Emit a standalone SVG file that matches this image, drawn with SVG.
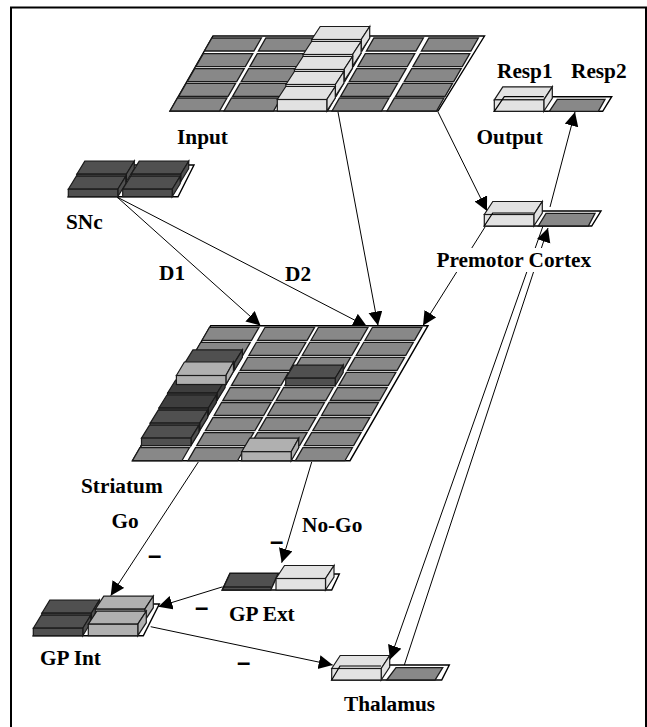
<svg xmlns="http://www.w3.org/2000/svg" xmlns:xlink="http://www.w3.org/1999/xlink" width="647" height="727" viewBox="0 0 647 727">
<style>
text{font-family:"Liberation Serif","Times New Roman",serif;font-weight:bold;font-size:21.3px;fill:#000}
.minus{font-family:"Liberation Sans",Arial,sans-serif;font-size:24px}
.base{fill:#fff;stroke:#000;stroke-width:1.4}
.cell{fill:#888;stroke:#1a1a1a;stroke-width:1.3}
.wire{fill:none;stroke:#000;stroke-width:1.2}
.box polygon,.box rect{stroke:#1a1a1a;stroke-width:1.2}
.light{fill:#e2e2e2}.mid{fill:#b0b0b0}.dark{fill:#505050}.deep{fill:#3e3e3e}
#connectors line{stroke:#000;stroke-width:1;fill:none;marker-end:url(#head)}
</style>
<defs>
<marker id="head" markerUnits="userSpaceOnUse" markerWidth="16" markerHeight="16" refX="14" refY="7" orient="auto"><path d="M0,0L14,7L0,14z" fill="#000"/></marker>
<polygon id="ic" class="cell" points="0,0 49.5,0 57,-13 7.5,-13"/>
<g id="inrow"><use xlink:href="#ic" x="0"/><use xlink:href="#ic" x="54"/><use xlink:href="#ic" x="108"/><use xlink:href="#ic" x="162"/><use xlink:href="#ic" x="217"/></g>
<g id="strow"><use xlink:href="#ic" x="0"/><use xlink:href="#ic" x="55.6"/><use xlink:href="#ic" x="109"/><use xlink:href="#ic" x="163"/></g>
<g id="tall" class="box"><polygon points="0,-11.5 8.5,-24.5 58,-24.5 49.5,-11.5"/><polygon points="49.5,-11.5 58,-24.5 58,-13 49.5,0"/><rect x="0" y="-11.5" width="49.5" height="11.5"/></g>
<g id="med" class="box"><polygon points="0,-9 8,-22.5 57,-22.5 49.5,-9"/><polygon points="49.5,-9 57,-22.5 57,-13 49.5,0"/><rect x="0" y="-9" width="49.5" height="9"/></g>
<g id="low" class="box"><polygon points="0,-7.5 8,-20.5 57.5,-20.5 49.5,-7.5"/><polygon points="49.5,-7.5 57.5,-20.5 57.5,-13 49.5,0"/><rect x="0" y="-7.5" width="49.5" height="7.5"/></g>
</defs>
<rect x="11" y="7.5" width="635" height="730" fill="#fff" stroke="#000" stroke-width="2"/>

<g id="connectors">
<line x1="338" y1="112" x2="378" y2="325.5"/>
<line x1="438" y1="112" x2="487" y2="211"/>
<line x1="485" y1="227" x2="423" y2="325.5"/>
<line x1="550" y1="207" x2="575" y2="112"/>
<line x1="404.3" y1="665" x2="548" y2="228"/>
<line x1="543" y1="226" x2="390" y2="659.5"/>
<line x1="117" y1="197" x2="260.5" y2="325.5"/>
<line x1="117" y1="197" x2="367" y2="326.5"/>
<line x1="198.3" y1="462" x2="110.7" y2="595.7"/>
<line x1="311.7" y1="462" x2="281.7" y2="562.7"/>
<line x1="222" y1="587" x2="158.3" y2="606.7"/>
<line x1="150.7" y1="626.7" x2="332.7" y2="665"/>
</g>

<g id="input">
<polygon class="base" points="170,111 213,36 484.5,36 438,111"/>
<use xlink:href="#inrow" transform="translate(204.4,51)"/>
<use xlink:href="#inrow" transform="translate(195.8,66.6)"/>
<use xlink:href="#inrow" transform="translate(187.2,81.6)"/>
<use xlink:href="#inrow" transform="translate(178.6,96.4)"/>
<use xlink:href="#inrow" transform="translate(170,111)"/>
<g class="light">
<use xlink:href="#tall" transform="translate(311.7,51)"/>
<use xlink:href="#tall" transform="translate(303.1,66)"/>
<use xlink:href="#tall" transform="translate(294.5,81)"/>
<use xlink:href="#tall" transform="translate(285.9,96)"/>
<use xlink:href="#tall" transform="translate(277.3,111)"/>
</g>
<text x="177" y="144">Input</text>
</g>

<g id="output">
<polygon class="base" points="494.3,111.3 504.3,96.7 611.7,96.7 602.7,111.3"/>
<polygon class="cell" points="549.3,111.3 557.3,99.3 605,99.3 598.3,111.3"/>
<use xlink:href="#tall" class="light" transform="translate(494.3,111.3)"/>
<polyline class="wire" points="494.3,111.3 504.3,96.7 543.8,96.7"/>
<text x="497" y="78">Resp1</text>
<text x="571" y="78">Resp2</text>
<text x="476.5" y="144">Output</text>
</g>

<g id="premotor">
<polygon class="base" points="484.3,226 492.7,211 601,211 591.7,226"/>
<polygon class="cell" points="538.3,226 546,213.3 595,213.3 588.3,226"/>
<use xlink:href="#tall" class="light" transform="translate(484.3,226)"/>
<polyline class="wire" points="484.3,226 492.7,213 533.8,213"/>
<rect x="436" y="248" width="157" height="24" fill="#fff"/>
<text x="436.5" y="267">Premotor Cortex</text>
</g>

<g id="snc">
<polygon class="base" points="68.3,196.7 86,165 194,165 178,196.7"/>
<g class="dark">
<use xlink:href="#low" transform="translate(76.8,181.7)"/>
<use xlink:href="#low" transform="translate(131.2,181.7)"/>
<use xlink:href="#low" transform="translate(68.3,196.7)"/>
<use xlink:href="#low" transform="translate(122.7,196.7)"/>
</g>
<text x="66" y="229">SNc</text>
</g>

<g id="striatum">
<polygon class="base" points="132.7,460.7 210.7,325.7 428,325.7 350,460.7"/>
<use xlink:href="#strow" transform="translate(202,340.3)"/>
<use xlink:href="#strow" transform="translate(193.3,355.3)"/>
<use xlink:href="#strow" transform="translate(184.6,370.4)"/>
<use xlink:href="#strow" transform="translate(175.9,385.4)"/>
<use xlink:href="#strow" transform="translate(167.2,400.5)"/>
<use xlink:href="#strow" transform="translate(158.5,415.5)"/>
<use xlink:href="#strow" transform="translate(149.8,430.6)"/>
<use xlink:href="#strow" transform="translate(141.1,445.6)"/>
<use xlink:href="#strow" transform="translate(132.4,460.7)"/>
<use xlink:href="#low" class="dark" transform="translate(184.9,370.4)"/>
<use xlink:href="#low" class="deep" transform="translate(167.6,400.5)"/>
<use xlink:href="#med" class="mid" transform="translate(176.4,384.5)"/>
<use xlink:href="#low" class="deep" transform="translate(158.9,415.5)"/>
<use xlink:href="#low" class="dark" transform="translate(150.2,430.6)"/>
<use xlink:href="#low" class="dark" transform="translate(141.5,445.6)"/>
<use xlink:href="#low" class="dark" transform="translate(285.7,385.7)"/>
<use xlink:href="#med" class="mid" transform="translate(241.7,460.7)"/>
<text x="81" y="493">Striatum</text>
</g>

<g id="gpext">
<polygon class="base" points="222.3,590 230,574 339.3,574 331.7,590"/>
<polygon class="dark" stroke="#1a1a1a" stroke-width="1.5" points="222.3,590 270.7,590 278.3,573.3 230,573.3"/>
<polyline class="wire" points="222.3,587 271,587"/>
<use xlink:href="#tall" class="light" transform="translate(276,590)"/>
<text x="229" y="621">GP Ext</text>
</g>

<g id="gpint">
<polygon class="base" points="33.3,635.7 51.7,604 159.3,604 143.3,635.7"/>
<use xlink:href="#low" class="dark" transform="translate(41.8,620.7)"/>
<use xlink:href="#low" class="dark" transform="translate(33.3,635.7)"/>
<use xlink:href="#tall" class="mid" transform="translate(95.3,620.7)"/>
<use xlink:href="#tall" class="mid" transform="translate(88.3,635.7)"/>
<text x="40" y="665">GP Int</text>
</g>

<g id="thalamus">
<polygon class="base" points="331.7,680 340,665 449.3,665 441.7,680"/>
<polygon class="cell" points="386.7,680 396,667.7 442.7,667.7 435,680"/>
<use xlink:href="#tall" class="light" transform="translate(331.7,680)"/>
<polyline class="wire" points="331.7,680 340,666 381,666"/>
<text x="344" y="711">Thalamus</text>
</g>

<g id="labels">
<text x="159" y="280">D1</text>
<text x="285" y="281">D2</text>
<text x="111.5" y="528">Go</text>
<text x="302" y="532">No-Go</text>
<text class="minus" x="148" y="563">–</text>
<text class="minus" x="270" y="549">–</text>
<text class="minus" x="195" y="615">–</text>
<text class="minus" x="237" y="670">–</text>
</g>
</svg>
